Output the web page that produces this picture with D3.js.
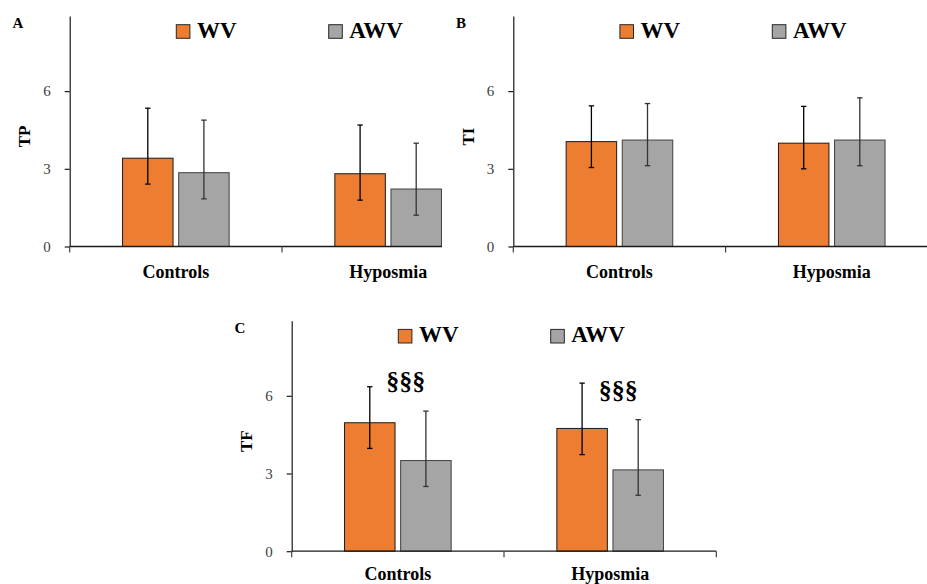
<!DOCTYPE html>
<html>
<head>
<meta charset="utf-8">
<script src="https://cdn.jsdelivr.net/npm/d3@7"></script>
<style>
  html, body { margin: 0; padding: 0; background: #fff; }
  svg { display: block; }
</style>
</head>
<body>
<svg id="chart" width="927" height="584" font-family="'Liberation Serif', 'Times New Roman', serif"></svg>
<script>
// ---------------- DATA ----------------
const categories = ["Controls", "Hyposmia"];
const seriesNames = ["WV", "AWV"];
const yTicks = [0, 3, 6];

// Panel A — TP
const tpWV      = [3.41, 2.81];
const tpWVHigh  = [5.34, 4.69];
const tpWVLow   = [2.41, 1.79];
const tpAWV     = [2.85, 2.22];
const tpAWVHigh = [4.88, 3.99];
const tpAWVLow  = [1.84, 1.21];

// Panel B — TI
const tiWV      = [4.05, 3.99];
const tiWVHigh  = [5.43, 5.41];
const tiWVLow   = [3.05, 3.00];
const tiAWV     = [4.11, 4.11];
const tiAWVHigh = [5.52, 5.74];
const tiAWVLow  = [3.12, 3.12];

// Panel C — TF
const tfWV      = [4.96, 4.74];
const tfWVHigh  = [6.35, 6.49];
const tfWVLow   = [3.97, 3.73];
const tfAWV     = [3.50, 3.14];
const tfAWVHigh = [5.41, 5.08];
const tfAWVLow  = [2.50, 2.16];
const tfMarks   = ["§§§", "§§§"];
const tfMarkY   = [6.22, 5.86];

// ---------------- STYLE / LAYOUT ----------------
const FONT = "'Liberation Serif', 'Times New Roman', serif";
const colors = { WV: "#ED7D31", AWV: "#A5A5A5" };
const strokes = { WV: "#1a1a1a", AWV: "#404040" };
const yMax = 8.9;
const pxPerUnit = 25.9;
const bandW = 212.3;

const panels = [
  { label: "A", yLabel: "TP", left: 69.7, top: 16, axisRight: 442, endTick: false, catDy: 31.6,
    wv: tpWV, wvHi: tpWVHigh, wvLo: tpWVLow, awv: tpAWV, awvHi: tpAWVHigh, awvLo: tpAWVLow },
  { label: "B", yLabel: "TI", left: 513.3, top: 16, axisRight: 927, endTick: false, catDy: 31.6,
    wv: tiWV, wvHi: tiWVHigh, wvLo: tiWVLow, awv: tiAWV, awvHi: tiAWVHigh, awvLo: tiAWVLow },
  { label: "C", yLabel: "TF", left: 291.7, top: 320.7, axisRight: 716.3, endTick: true, catDy: 29,
    wv: tfWV, wvHi: tfWVHigh, wvLo: tfWVLow, awv: tfAWV, awvHi: tfAWVHigh, awvLo: tfAWVLow,
    marks: tfMarks, markY: tfMarkY }
];

const svg = d3.select("#chart");

panels.forEach(p => {
  const zero = p.top + yMax * pxPerUnit;
  const g = svg.append("g").attr("font-family", FONT);

  const y = d3.scaleLinear().domain([0, yMax]).range([zero, p.top]);
  const x = d3.scaleBand().domain(categories).range([p.left, p.left + 2 * bandW]).padding(0);
  const xs = d3.scaleBand().domain(seriesNames)
    .range([x.bandwidth() / 2 - 53.3, x.bandwidth() / 2 + 53.3])
    .paddingInner(0.1).paddingOuter(0);

  const rows = [];
  categories.forEach((c, i) => {
    rows.push({ cat: c, s: "WV", v: p.wv[i], hi: p.wvHi[i], lo: p.wvLo[i] });
    rows.push({ cat: c, s: "AWV", v: p.awv[i], hi: p.awvHi[i], lo: p.awvLo[i] });
  });

  // Bars
  g.selectAll("rect.bar").data(rows).enter().append("rect")
    .attr("class", "bar")
    .attr("x", d => x(d.cat) + xs(d.s))
    .attr("y", d => y(d.v))
    .attr("width", xs.bandwidth())
    .attr("height", d => y(0) - y(d.v))
    .attr("fill", d => colors[d.s])
    .attr("stroke", d => strokes[d.s])
    .attr("stroke-width", 1);

  // Error bars
  const eb = g.selectAll("g.err").data(rows).enter().append("g").attr("class", "err")
    .attr("stroke", d => d.s === "WV" ? "#000" : "#333")
    .attr("stroke-width", 1.3);
  const cx = d => x(d.cat) + xs(d.s) + xs.bandwidth() / 2;
  eb.append("line").attr("x1", cx).attr("x2", cx).attr("y1", d => y(d.lo)).attr("y2", d => y(d.hi));
  eb.append("line").attr("x1", d => cx(d) - 2.7).attr("x2", d => cx(d) + 2.7).attr("y1", d => y(d.hi)).attr("y2", d => y(d.hi));
  eb.append("line").attr("x1", d => cx(d) - 2.7).attr("x2", d => cx(d) + 2.7).attr("y1", d => y(d.lo)).attr("y2", d => y(d.lo));

  // Y axis
  const yAxis = d3.axisLeft(y).tickValues(yTicks).tickSize(5).tickSizeOuter(0).tickPadding(14);
  const ya = g.append("g").attr("transform", `translate(${p.left},0)`).call(yAxis);
  ya.attr("font-family", FONT);
  ya.select(".domain").attr("stroke", "#1a1a1a").attr("stroke-width", 1.2);
  ya.selectAll(".tick line").attr("stroke", "#1a1a1a").attr("stroke-width", 1.2);
  ya.selectAll(".tick text").attr("font-size", 15).attr("fill", "#404040")
    .attr("font-family", FONT);

  // X axis line + ticks
  g.append("line").attr("x1", p.left).attr("x2", p.axisRight).attr("y1", zero).attr("y2", zero)
    .attr("stroke", "#1a1a1a").attr("stroke-width", 1.3);
  const xt = [p.left, p.left + bandW];
  if (p.endTick) xt.push(p.left + 2 * bandW);
  g.selectAll("line.xt").data(xt).enter().append("line").attr("class", "xt")
    .attr("x1", d => d).attr("x2", d => d).attr("y1", zero).attr("y2", zero + 6)
    .attr("stroke", "#404040").attr("stroke-width", 1.2);

  // Category labels
  g.selectAll("text.cat").data(categories).enter().append("text").attr("class", "cat")
    .attr("x", d => x(d) + x.bandwidth() / 2)
    .attr("y", zero + p.catDy)
    .attr("text-anchor", "middle")
    .attr("font-family", FONT)
    .attr("font-size", 18).attr("font-weight", "bold").attr("fill", "#000")
    .text(d => d);

  // Y label
  g.append("text")
    .attr("transform", `translate(${p.left - 45},${zero - 110}) rotate(-90)`)
    .attr("text-anchor", "middle").attr("dominant-baseline", "central")
    .attr("font-family", FONT)
    .attr("font-size", 17).attr("font-weight", "bold").attr("fill", "#000")
    .text(p.yLabel);

  // Panel label
  g.append("text").attr("x", p.left - 57.3).attr("y", p.top + 12)
    .attr("font-family", FONT)
    .attr("font-size", 15).attr("font-weight", "bold").attr("fill", "#000")
    .text(p.label);

  // Legend
  const legOff = { WV: 106.6, AWV: 259 };
  seriesNames.forEach(s => {
    g.append("rect").attr("x", p.left + legOff[s]).attr("y", p.top + 8.7)
      .attr("width", 13.6).attr("height", 13.6)
      .attr("fill", colors[s]).attr("stroke", "#262626").attr("stroke-width", 1);
    g.append("text").attr("x", p.left + legOff[s] + 20.6).attr("y", p.top + 21.7)
      .attr("font-family", FONT)
      .attr("font-size", 23).attr("font-weight", "bold").attr("fill", "#000")
      .text(s);
  });

  // Significance marks
  if (p.marks) {
    g.selectAll("text.mark").data(categories).enter().append("text").attr("class", "mark")
      .attr("x", d => x(d) + x.bandwidth() / 2 + 8)
      .attr("y", (d, i) => y(p.markY[i]))
      .attr("text-anchor", "middle")
      .attr("font-family", FONT)
      .attr("font-size", 26).attr("font-weight", "bold").attr("fill", "#000")
      .text((d, i) => p.marks[i]);
  }
});
</script>
</body>
</html>
